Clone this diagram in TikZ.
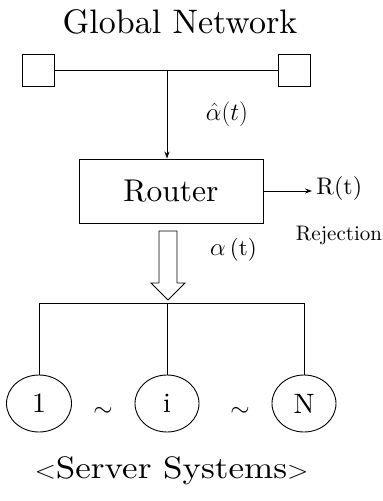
\documentclass[tikz,border=0pt]{standalone}
\usepackage{graphicx}
\usepackage{fontspec}
\setmainfont{lmroman10-regular.otf}
\usetikzlibrary{shapes.geometric,arrows.meta}
\begin{document}
\begin{tikzpicture}[x=1pt,y=-1pt,line width=0.9pt,
  sq/.style={draw, minimum size=32pt, inner sep=0pt},
  routerbox/.style={draw, minimum width=184pt, minimum height=64pt, inner sep=0pt, font=\fontsize{31.5}{33}\selectfont},
  srv/.style={draw, ellipse, minimum width=65pt, minimum height=57pt, inner sep=0pt, font=\fontsize{28}{30}\selectfont},
  tipline/.style={-{Stealth[length=7pt,width=5pt]}},
  lbl/.style={inner sep=0pt}]
\useasboundingbox (0,0) rectangle (383,501);
% title
\node[lbl, anchor=base, font=\fontsize{34}{36}\selectfont] (title) at (180,33) {Global Network};
% global network
\node[sq] (sqL) at (38,70.5) {};
\node[sq] (sqR) at (294.5,70.5) {};
\draw (sqL) -- (sqR);
\coordinate (j) at (167,70.5);
% router
\node[routerbox] (router) at (171,191) {Router};
\draw[tipline] (j) -- (router.north -| j);
\node[lbl, font=\fontsize{27}{29}\selectfont] (ahat) at (227,114) {$\hat{\alpha}(t)$};
% rejection
\coordinate (rEnd) at (312,191);
\draw[tipline] (router.east |- rEnd) -- (rEnd);
\node[lbl, anchor=west, font=\fontsize{24}{26}\selectfont] (rt) at (316,188) {R(t)};
\node[lbl, font=\fontsize{21}{23}\selectfont] (rej) at (339,235) {Rejection};
% hollow arrow
\draw[line join=miter] (159,231) -- (159,283) -- (151,283) -- (168,300) -- (185,283) -- (177,283) -- (177,231) -- cycle;
\node[lbl, font=\fontsize{23}{25}\selectfont] (alab) at (233.5,250) {$\alpha\,$(t)};
% servers
\node[srv] (e1) at (39,403.5) {1};
\node[srv, minimum width=64pt] (ei) at (167,403.5) {i};
\node[srv, minimum width=64pt] (eN) at (304,403.5) {N};
\coordinate (bus) at (168,303);
\draw (e1.north) -- (e1.north |- bus) -- (eN.north |- bus) -- (eN.north);
\draw (ei.north |- bus) -- (ei.north);
\node[lbl, font=\fontsize{24}{26}\selectfont] (t1) at (103,412) {$\sim$};
\node[lbl, font=\fontsize{24}{26}\selectfont] (t2) at (240,412) {$\sim$};
% caption
\node[lbl, font=\fontsize{31}{33}\selectfont] (cap) at (171.5,471) {\scalebox{1.13}[1]{$<$Server Systems$>$}};
\end{tikzpicture}
\end{document}
